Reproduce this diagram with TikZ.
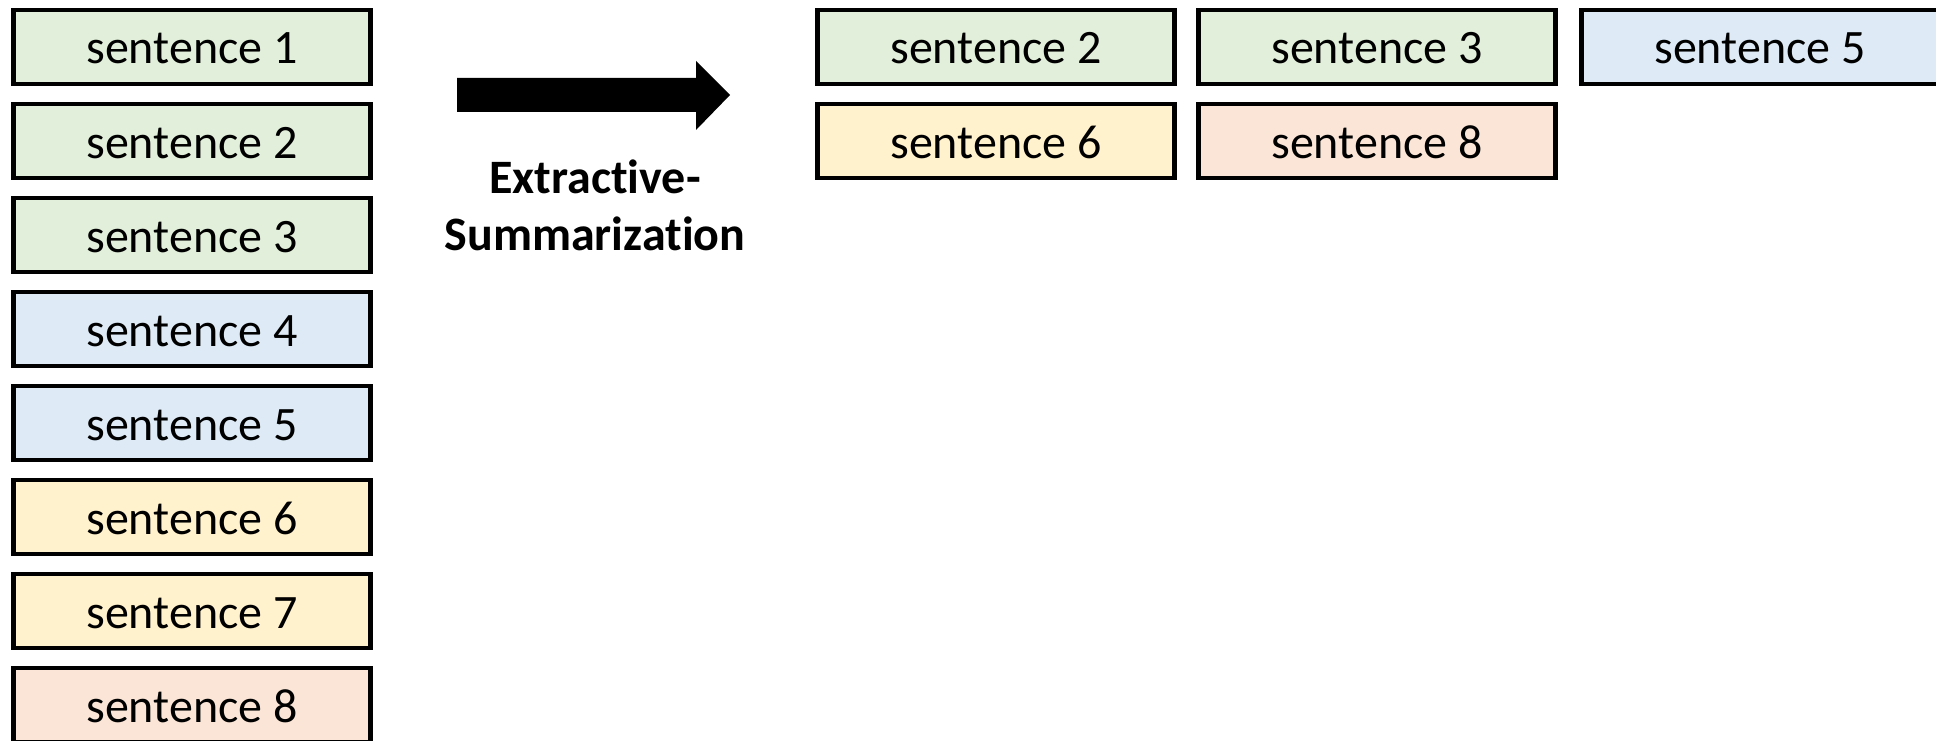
\documentclass[tikz,border=0pt]{standalone}
\usepackage{fontspec}
\setmainfont{Carlito}[Ligatures={NoCommon}]
\definecolor{cgreen}{HTML}{E2EFDA}
\definecolor{cblue}{HTML}{DEEBF7}
\definecolor{cyellow}{HTML}{FFF2CC}
\definecolor{cpink}{HTML}{FBE5D6}
\begin{document}
\begin{tikzpicture}[x=1pt,y=-1pt,
  sbox/.style={draw=black,line width=4.5pt,minimum width=357pt,minimum height=74pt,
    inner sep=0pt,text height=34pt,text depth=0pt,font=\fontsize{48}{52}\selectfont},
  gbox/.style={sbox,fill=cgreen},
  bbox/.style={sbox,fill=cblue},
  ybox/.style={sbox,fill=cyellow},
  pbox/.style={sbox,fill=cpink},
  lab/.style={align=center,font=\fontsize{48}{57}\selectfont\bfseries,inner sep=0pt}]
\path[use as bounding box] (0,0) rectangle (1936,741);
\clip (0,0) rectangle (1936,741);
% left column
\node[gbox] (l1) at (192,47) {sentence 1};
\node[gbox] (l2) at (192,141) {sentence 2};
\node[gbox] (l3) at (192,235) {sentence 3};
\node[bbox] (l4) at (192,329) {sentence 4};
\node[bbox] (l5) at (192,423) {sentence 5};
\node[ybox] (l6) at (192,517) {sentence 6};
\node[ybox] (l7) at (192,611) {sentence 7};
\node[pbox] (l8) at (192,705) {sentence 8};
% right summary
\node[gbox] (r2) at (996,47) {sentence 2};
\node[gbox] (r3) at (1377,47) {sentence 3};
\node[bbox] (r5) at (1760,47) {sentence 5};
\node[ybox] (r6) at (996,141) {sentence 6};
\node[pbox] (r8) at (1377,141) {sentence 8};
% block arrow
\fill[black] (457,78) -- (696,78) -- (696,61) -- (730,95) -- (696,130) -- (696,112) -- (457,112) -- cycle;
\node[lab,anchor=base] (t) at (595,250) {Extractive-\\Summarization};
\end{tikzpicture}
\end{document}
